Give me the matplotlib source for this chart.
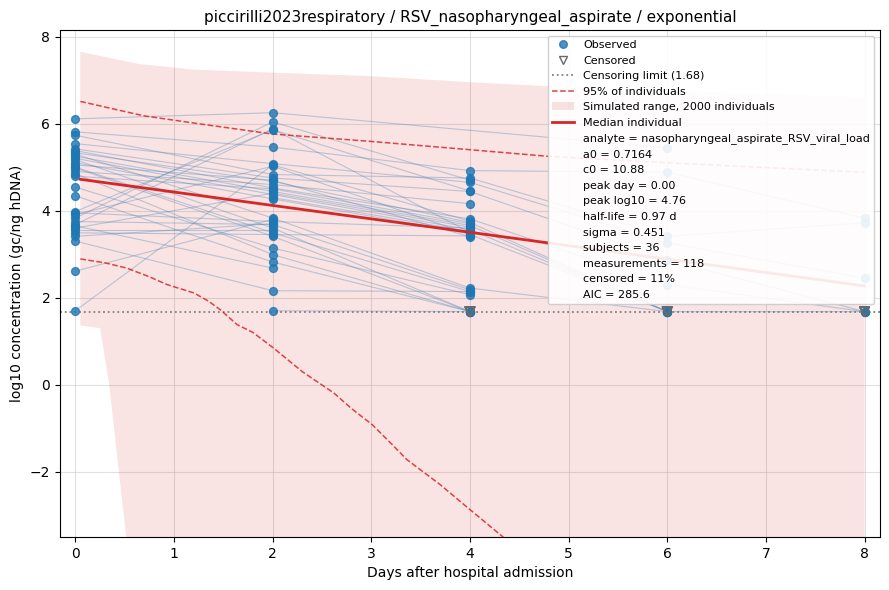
import numpy as np
import matplotlib
matplotlib.use("Agg")
import matplotlib.pyplot as plt
from matplotlib.lines import Line2D
from matplotlib.patches import Patch

nan = np.nan
days = [0, 2, 4, 6, 8]
lod = 1.68

# per-subject log10 values at days 0,2,4,6,8 (nan = not sampled)
subjects = [
    [6.11, 6.25, nan, 5.44, nan],
    [5.81, 5.46, 4.92, 4.88, 3.83],
    [5.73, 4.83, 4.75, 3.41, 3.72],
    [5.54, 5.08, 4.65, 3.26, 2.45],
    [5.42, 4.75, 4.44, 2.87, 1.68],
    [5.38, 4.52, 3.81, 2.30, 1.68],
    [5.33, 4.67, 3.73, 1.68, 1.68],
    [5.30, 3.83, 2.22, 1.68, nan],
    [5.25, 4.44, 3.66, 1.68, nan],
    [5.20, 4.37, 3.56, 1.68, nan],
    [5.17, 3.60, 1.68, nan, nan],
    [5.10, 4.27, 3.47, nan, nan],
    [5.05, 4.70, 3.40, nan, nan],
    [5.00, 3.49, 2.14, nan, nan],
    [4.98, 3.41, 1.68, nan, nan],
    [4.90, 4.60, 4.16, nan, nan],
    [4.85, 2.99, 1.68, nan, nan],
    [4.79, 4.50, 3.70, nan, nan],
    [4.54, 3.14, 2.07, nan, nan],
    [4.34, 2.82, 1.68, nan, nan],
    [3.98, 5.86, 4.45, nan, nan],
    [3.95, 3.75, 3.60, nan, nan],
    [3.91, 5.02, 3.45, 1.68, nan],
    [3.83, 6.04, 4.70, nan, nan],
    [3.75, 3.68, 2.18, nan, nan],
    [3.68, 5.88, 3.50, nan, nan],
    [3.65, 2.68, nan, nan, nan],
    [3.60, 4.40, 3.62, nan, nan],
    [3.55, 3.55, nan, nan, nan],
    [3.49, 3.45, 3.42, nan, nan],
    [3.41, 3.70, nan, nan, nan],
    [3.30, 2.16, 2.14, nan, nan],
    [2.61, 3.80, nan, nan, nan],
    [1.70, 5.05, 3.76, nan, nan],
    [nan, 1.70, 1.68, nan, nan],
    [nan, 4.30, 3.52, nan, nan],
]
# censored flags (1 = below limit of detection)
censored = [
    [0, 0, 0, 0, 0], [0, 0, 0, 0, 0], [0, 0, 0, 0, 0], [0, 0, 0, 0, 0],
    [0, 0, 0, 0, 1], [0, 0, 0, 0, 1], [0, 0, 0, 1, 1], [0, 0, 0, 1, 0],
    [0, 0, 0, 1, 0], [0, 0, 0, 1, 0], [0, 0, 1, 0, 0], [0, 0, 0, 0, 0],
    [0, 0, 0, 0, 0], [0, 0, 0, 0, 0], [0, 0, 1, 0, 0], [0, 0, 0, 0, 0],
    [0, 0, 1, 0, 0], [0, 0, 0, 0, 0], [0, 0, 0, 0, 0], [0, 0, 1, 0, 0],
    [0, 0, 0, 0, 0], [0, 0, 0, 0, 0], [0, 0, 0, 1, 0], [0, 0, 0, 0, 0],
    [0, 0, 0, 0, 0], [0, 0, 0, 0, 0], [0, 0, 0, 0, 0], [0, 0, 0, 0, 0],
    [0, 0, 0, 0, 0], [0, 0, 0, 0, 0], [0, 0, 0, 0, 0], [0, 0, 0, 0, 0],
    [0, 0, 0, 0, 0], [0, 0, 0, 0, 0], [0, 0, 1, 0, 0], [0, 0, 0, 0, 0],
]

# simulated band (max / min of 2000 individuals)
band_t_upper = [0.05, 0.64, 1.2, 2.0, 3.0, 4.0, 4.78, 6.0, 8.0]
band_upper = [7.65, 7.37, 7.24, 7.17, 7.09, 6.95, 6.86, 6.75, 6.60]
band_t_lower = [0.05, 0.25, 0.34, 0.52, 0.6, 8.0]
band_lower = [1.36, 1.30, 0.05, -3.6, -10.0, -10.0]

# 95% of individuals
q_t_upper = [0.05, 0.69, 1.27, 2.0, 3.0, 4.0, 4.78, 6.0, 8.0]
q_upper = [6.51, 6.18, 5.99, 5.76, 5.59, 5.40, 5.25, 5.10, 4.88]
q_t_lower = [0.05, 0.3, 0.52, 0.75, 0.93, 1.2, 1.35, 1.47, 1.64, 1.8, 2.01,
             2.3, 2.62, 2.8, 3.01, 3.2, 3.36, 3.7, 4.0, 4.33, 5.0]
q_lower = [2.89, 2.80, 2.68, 2.48, 2.30, 2.11, 1.92, 1.72, 1.38, 1.20, 0.84,
           0.30, -0.19, -0.55, -0.92, -1.35, -1.72, -2.30, -2.87, -3.49, -4.9]

# median individual
med_t = [0.05, 8.0]
med_v = [4.72, 2.27]

info = [
    "analyte = nasopharyngeal_aspirate_RSV_viral_load",
    "a0 = 0.7164",
    "c0 = 10.88",
    "peak day = 0.00",
    "peak log10 = 4.76",
    "half-life = 0.97 d",
    "sigma = 0.451",
    "subjects = 36",
    "measurements = 118",
    "censored = 11%",
    "AIC = 285.6",
]

fig = plt.figure(figsize=(8.89, 5.9), dpi=100)
ax = fig.add_axes([0.0675, 0.0898, 0.9224, 0.8593])

red = "#d62728"
# band
tu = np.array(band_t_upper)
tl = np.array(band_t_lower)
tgrid = np.union1d(tu, tl)
up = np.interp(tgrid, tu, band_upper)
lo = np.interp(tgrid, tl, band_lower)
ax.fill_between(tgrid, lo, up, color=red, alpha=0.13, linewidth=0, zorder=1)

ax.plot(q_t_upper, q_upper, color=red, ls="--", lw=1.1, alpha=0.85, zorder=3)
ax.plot(q_t_lower, q_lower, color=red, ls="--", lw=1.1, alpha=0.85, zorder=3)

ax.axhline(lod, color="gray", ls=":", lw=1.3, zorder=2)

# subject lines
for row in subjects:
    d = np.array(days, float)
    v = np.array(row, float)
    m = ~np.isnan(v)
    ax.plot(d[m], v[m], color="steelblue", alpha=0.35, lw=0.8, zorder=2)

# points
obs_x, obs_y, cen_x, cen_y = [], [], [], []
for row, cf in zip(subjects, censored):
    for d, v, c in zip(days, row, cf):
        if np.isnan(v):
            continue
        obs_x.append(d); obs_y.append(v)
        if c:
            cen_x.append(d); cen_y.append(v)
ax.scatter(obs_x, obs_y, s=32, color="#1f77b4", alpha=0.8, zorder=4)
ax.scatter(cen_x, cen_y, s=45, marker="v", facecolors="none", edgecolors="dimgray",
           linewidths=1.2, zorder=4)

ax.plot(med_t, med_v, color=red, lw=2.0, zorder=4)

ax.set_xlim(-0.156, 8.157)
ax.set_ylim(-3.5, 8.15)
ax.set_xticks(range(0, 9))
ax.set_yticks([-2, 0, 2, 4, 6, 8])
ax.grid(True, color="#cccccc", alpha=0.6, lw=0.8)
ax.set_axisbelow(True)
ax.set_xlabel("Days after hospital admission")
ax.set_ylabel("log10 concentration (gc/ng hDNA)")
ax.set_title("piccirilli2023respiratory / RSV_nasopharyngeal_aspirate / exponential", fontsize=11)

handles = [
    Line2D([], [], marker="o", ls="none", color="#1f77b4", alpha=0.8, markersize=5.5),
    Line2D([], [], marker="v", ls="none", markerfacecolor="none", markeredgecolor="dimgray", markersize=6),
    Line2D([], [], color="gray", ls=":", lw=1.3),
    Line2D([], [], color=red, ls="--", lw=1.1, alpha=0.85),
    Patch(facecolor=red, alpha=0.13, edgecolor="none"),
    Line2D([], [], color=red, lw=2.0),
]
labels = ["Observed", "Censored", f"Censoring limit ({lod:.2f})", "95% of individuals",
          "Simulated range, 2000 individuals", "Median individual"]
for s in info:
    handles.append(Line2D([], [], ls="none"))
    labels.append(s)
leg = ax.legend(handles, labels, loc="upper right", fontsize=8, framealpha=0.9)
leg.set_zorder(10)

fig.savefig("out.png", dpi=100)
